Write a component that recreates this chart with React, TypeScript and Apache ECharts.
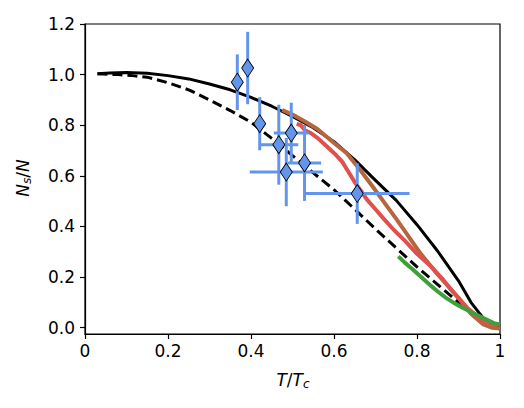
import React, { useEffect, useRef } from "react";
import * as echarts from "echarts";

// ---- data ----
const solidX = [0.03, 0.06, 0.1, 0.15, 0.2, 0.25, 0.3, 0.35, 0.4, 0.45, 0.5, 0.55, 0.6, 0.65, 0.7, 0.75, 0.8, 0.85, 0.9, 0.93, 0.96, 0.98, 1.0];
const solidY = [1.003, 1.006, 1.008, 1.005, 0.996, 0.983, 0.963, 0.94, 0.91, 0.875, 0.835, 0.79, 0.735, 0.663, 0.582, 0.503, 0.407, 0.302, 0.185, 0.1, 0.037, 0.015, 0.005];

const dashX = [0.03, 0.08, 0.12, 0.15, 0.2, 0.25, 0.3, 0.35, 0.4, 0.45, 0.5, 0.55, 0.6, 0.65, 0.7, 0.75, 0.8, 0.85, 0.9, 0.94];
const dashY = [1.003, 1.0, 0.995, 0.99, 0.968, 0.94, 0.9, 0.858, 0.812, 0.748, 0.68, 0.612, 0.545, 0.468, 0.39, 0.315, 0.24, 0.17, 0.1, 0.05];

const brownX = [0.475, 0.5, 0.53, 0.56, 0.6, 0.63, 0.66, 0.69, 0.72, 0.75, 0.78, 0.81, 0.85, 0.9, 0.93, 0.96, 0.98, 1.0];
const brownY = [0.86, 0.842, 0.815, 0.785, 0.73, 0.69, 0.63, 0.565, 0.497, 0.43, 0.36, 0.29, 0.21, 0.118, 0.055, 0.013, 0.0, -0.003];

const redX = [0.51, 0.52, 0.53, 0.545, 0.56, 0.575, 0.59, 0.605, 0.62, 0.635, 0.65, 0.665, 0.68, 0.7, 0.72, 0.745, 0.77, 0.8, 0.83, 0.86, 0.89, 0.92, 0.945, 0.965, 0.98, 1.0];
const redY = [0.805, 0.8, 0.78, 0.768, 0.75, 0.728, 0.705, 0.682, 0.655, 0.615, 0.575, 0.54, 0.505, 0.468, 0.43, 0.385, 0.345, 0.292, 0.248, 0.195, 0.135, 0.08, 0.045, 0.022, 0.014, 0.012];

const greenX = [0.755, 0.77, 0.79, 0.81, 0.83, 0.85, 0.87, 0.89, 0.91, 0.93, 0.95, 0.97, 0.985, 1.0];
const greenY = [0.282, 0.258, 0.23, 0.2, 0.171, 0.143, 0.118, 0.097, 0.079, 0.062, 0.046, 0.03, 0.018, 0.013];

const ptX = [0.367, 0.392, 0.421, 0.467, 0.497, 0.485, 0.529, 0.656];
const ptY = [0.97, 1.026, 0.806, 0.723, 0.769, 0.615, 0.651, 0.53];
const ptXErr = [0, 0, 0, 0.047, 0.042, 0.088, 0.04, 0.126];
const ptYErr = [0.11, 0.143, 0.105, 0.158, 0.12, 0.135, 0.15, 0.12];

const xTicks = [0, 0.2, 0.4, 0.6, 0.8, 1.0];
const yTicks = [0, 0.2, 0.4, 0.6, 0.8, 1.0, 1.2];

const FONT = "DejaVu Sans";

const zip = (xs: number[], ys: number[]) => xs.map((x, i) => [x, ys[i]]);

export default function App() {
  const ref = useRef<HTMLDivElement>(null);
  useEffect(() => {
    if (!ref.current) return;
    const chart = echarts.init(ref.current, null, { renderer: "svg" });
    const lineSeries = (name: string, xs: number[], ys: number[], color: string, width: number, type: any, z: number) => ({
      name,
      type: "line",
      data: zip(xs, ys),
      showSymbol: false,
      symbol: "none",
      smooth: false,
      lineStyle: { color, width, type, cap: "butt", join: "round" },
      z,
      silent: true,
    });
    const pointData = ptX.map((x, i) => [x, ptY[i], ptXErr[i], ptYErr[i]]);
    chart.setOption({
      animation: false,
      grid: { left: 85, right: 24, top: 24, bottom: 74, show: true, borderColor: "#000", borderWidth: 1.2, backgroundColor: "transparent" },
      xAxis: {
        type: "value",
        min: 0,
        max: 1,
        interval: 0.2,
        axisLine: { show: true, onZero: false, lineStyle: { color: "#000", width: 1.2 } },
        axisTick: { show: true, inside: false, length: 5, lineStyle: { color: "#000", width: 1.2 } },
        splitLine: { show: false },
        axisLabel: {
          color: "#000",
          fontSize: 17,
          fontFamily: FONT,
          margin: 8,
          formatter: (v: number) => (v === 0 ? "0" : v === 1 ? "1" : v.toFixed(1)),
        },
      },
      yAxis: {
        type: "value",
        min: -0.025,
        max: 1.2,
        axisLine: { show: true, onZero: false, lineStyle: { color: "#000", width: 1.2 } },
        axisTick: { show: true, inside: false, length: 5, lineStyle: { color: "#000", width: 1.2 }, customValues: yTicks },
        splitLine: { show: false },
        axisLabel: {
          color: "#000",
          fontSize: 17,
          fontFamily: FONT,
          margin: 10,
          customValues: yTicks,
          formatter: (v: number) => v.toFixed(1),
        },
      },
      graphic: [
        {
          type: "text",
          x: 293,
          y: 380,
          style: {
            text: "{i|T}{n|/}{i|T}{s|c}",
            align: "center",
            verticalAlign: "middle",
            fill: "#000",
            rich: {
              i: { fontStyle: "italic", fontSize: 17, fontFamily: FONT, lineHeight: 20, verticalAlign: "middle" },
              n: { fontSize: 17, fontFamily: FONT, lineHeight: 20, verticalAlign: "middle" },
              s: { fontStyle: "italic", fontSize: 12, fontFamily: FONT, lineHeight: 12, verticalAlign: "bottom" },
            },
          },
        },
        {
          type: "text",
          x: 23,
          y: 178,
          rotation: Math.PI / 2,
          style: {
            text: "{i|N}{s|s}{n|/}{i|N}",
            align: "center",
            verticalAlign: "middle",
            fill: "#000",
            rich: {
              i: { fontStyle: "italic", fontSize: 17, fontFamily: FONT, lineHeight: 20, verticalAlign: "middle" },
              n: { fontSize: 17, fontFamily: FONT, lineHeight: 20, verticalAlign: "middle" },
              s: { fontStyle: "italic", fontSize: 12, fontFamily: FONT, lineHeight: 12, verticalAlign: "bottom" },
            },
          },
        },
      ],
      series: [
        lineSeries("solid", solidX, solidY, "#000000", 3, "solid", 2),
        lineSeries("dashed", dashX, dashY, "#000000", 3, [10, 5], 3),
        lineSeries("brown", brownX, brownY, "#B5663C", 4, "solid", 4),
        lineSeries("red", redX, redY, "#E0504D", 4, "solid", 5),
        lineSeries("green", greenX, greenY, "#3DA03A", 4, "solid", 6),
        {
          name: "errors",
          type: "custom",
          data: pointData,
          encode: { x: 0, y: 1 },
          z: 7,
          silent: true,
          renderItem: (params: any, api: any) => {
            const x = api.value(0);
            const y = api.value(1);
            const xe = api.value(2);
            const ye = api.value(3);
            const children: any[] = [];
            const a = api.coord([x, y - ye]);
            const b = api.coord([x, y + ye]);
            children.push({ type: "line", shape: { x1: a[0], y1: a[1], x2: b[0], y2: b[1] }, style: { stroke: "#6495ED", lineWidth: 3 } });
            if (xe > 0) {
              const c = api.coord([x - xe, y]);
              const d = api.coord([x + xe, y]);
              children.push({ type: "line", shape: { x1: c[0], y1: c[1], x2: d[0], y2: d[1] }, style: { stroke: "#6495ED", lineWidth: 3 } });
            }
            return { type: "group", children };
          },
        },
        {
          name: "points",
          type: "scatter",
          data: zip(ptX, ptY),
          symbol: "diamond",
          symbolSize: [12, 18],
          itemStyle: { color: "#6495ED", borderColor: "#000", borderWidth: 0.9, opacity: 1 },
          z: 8,
          silent: true,
        },
      ],
    });
    return () => chart.dispose();
  }, []);
  return <div ref={ref} style={{ position: "fixed", left: 0, top: 0, width: 524, height: 408, background: "#fff" }} />;
}
